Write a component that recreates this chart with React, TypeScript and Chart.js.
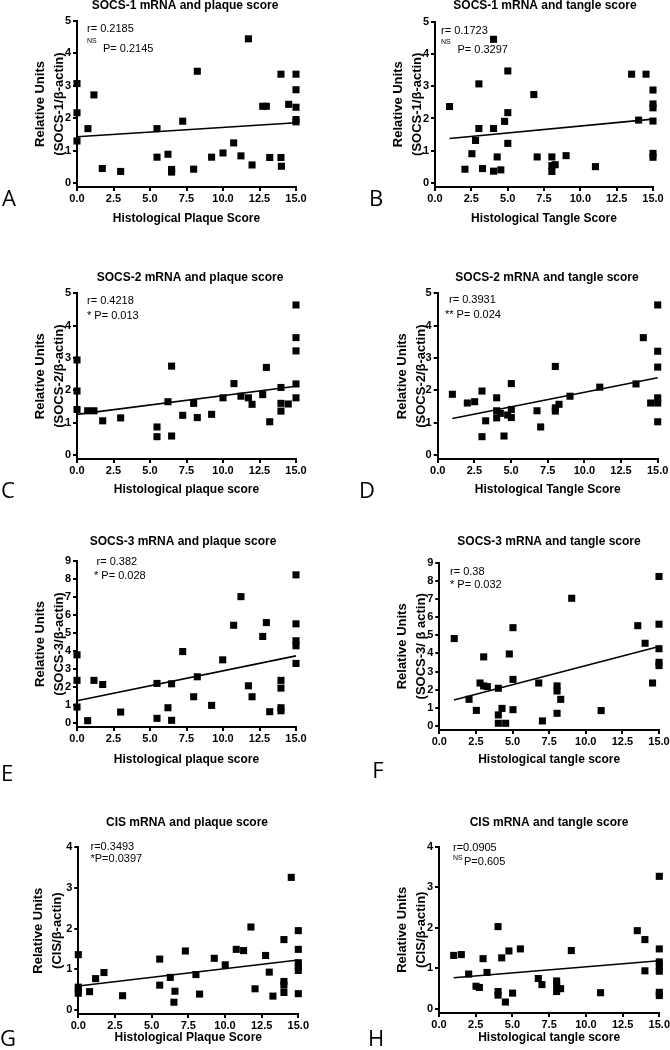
import React, { useEffect, useRef } from "react";
import { Chart, registerables } from "chart.js";

Chart.register(...registerables);

const FAMILY = '"Liberation Sans", Arial, sans-serif';
Chart.defaults.font.family = FAMILY;
Chart.defaults.color = "#000";

// ---------- data ----------
const X_TICK_STEP = 2.5;

// A: SOCS-1 vs plaque
const A_X = [0, 0, 0, 0.75, 1.16, 1.73, 2.99, 5.48, 5.48, 6.23, 6.48, 6.48, 7.24, 7.99, 8.24, 9.22, 10.0, 10.73, 11.23, 11.74, 11.99, 12.72, 12.97, 13.2, 13.97, 13.97, 14.0, 14.5, 15, 15, 15, 15, 15];
const A_Y = [3.07, 2.17, 1.3, 1.68, 2.72, 0.45, 0.36, 1.68, 0.8, 0.89, 0.42, 0.34, 1.91, 0.43, 3.45, 0.8, 0.93, 1.24, 0.84, 4.45, 0.56, 2.37, 2.37, 0.79, 3.36, 0.79, 0.52, 2.43, 3.36, 2.88, 2.34, 1.96, 1.89];
const A_FIT_X = [0, 15];
const A_FIT_Y = [1.43, 1.86];
const A_STATS = ["r= 0.2185", "NS", "P= 0.2145"];

// B: SOCS-1 vs tangle
const B_X = [1.0, 2.06, 2.54, 2.79, 3.02, 3.02, 3.27, 4.03, 4.03, 4.03, 4.28, 4.53, 4.79, 5.01, 5.01, 5.01, 6.8, 7.03, 8.04, 8.04, 8.04, 8.27, 9.02, 11.04, 13.53, 14.01, 14.52, 15, 15, 15, 15, 15, 15];
const B_Y = [2.37, 0.43, 0.91, 1.32, 3.07, 1.69, 0.45, 4.45, 1.69, 0.37, 0.81, 0.41, 1.91, 3.47, 2.18, 1.23, 2.74, 0.81, 0.81, 0.54, 0.36, 0.57, 0.85, 0.51, 3.37, 1.95, 3.37, 2.88, 2.45, 2.33, 1.92, 0.92, 0.8];
const B_FIT_X = [1, 15];
const B_FIT_Y = [1.38, 1.98];
const B_STATS = ["r= 0.1723", "NS", "P= 0.3297"];

// C: SOCS-2 vs plaque
const C_X = [0, 0, 0, 0.73, 1.16, 1.76, 2.99, 5.48, 5.48, 6.23, 6.48, 6.48, 7.24, 7.99, 8.24, 9.22, 10.0, 10.75, 11.23, 11.74, 11.99, 12.72, 12.97, 13.2, 13.97, 13.97, 13.97, 14.47, 15, 15, 15, 15, 15];
const C_Y = [2.94, 1.98, 1.41, 1.37, 1.37, 1.06, 1.15, 0.87, 0.57, 1.65, 2.75, 0.59, 1.23, 1.6, 1.16, 1.26, 1.77, 2.21, 1.82, 1.77, 1.57, 1.87, 2.71, 1.03, 2.09, 1.6, 1.36, 1.58, 4.64, 3.63, 3.22, 2.2, 1.77];
const C_FIT_X = [0, 15];
const C_FIT_Y = [1.26, 2.13];
const C_STATS = ["r= 0.4218", "* P= 0.013"];

// D: SOCS-2 vs tangle
const D_X = [1.0, 2.02, 2.52, 3.02, 3.02, 3.27, 4.02, 4.02, 4.02, 4.27, 4.52, 4.77, 5.02, 5.02, 5.02, 6.77, 7.02, 8.02, 8.02, 8.02, 8.27, 9.02, 11.05, 13.52, 14.02, 14.52, 15, 15, 15, 15, 15, 15];
const D_Y = [1.88, 1.61, 1.65, 1.98, 0.57, 1.06, 1.77, 1.37, 1.15, 1.29, 0.59, 1.24, 2.21, 1.41, 1.16, 1.37, 0.87, 2.74, 1.46, 1.36, 1.57, 1.82, 2.1, 2.2, 3.63, 1.61, 4.64, 3.21, 2.72, 1.77, 1.61, 1.03];
const D_FIT_X = [1, 15];
const D_FIT_Y = [1.13, 2.39];
const D_STATS = ["r= 0.3931", "** P= 0.024"];

// E: SOCS-3 vs plaque
const E_X = [0, 0, 0, 0.73, 1.16, 1.76, 2.99, 5.48, 5.48, 6.23, 6.48, 6.48, 7.24, 7.99, 8.24, 9.22, 9.98, 10.73, 11.23, 11.74, 11.99, 12.72, 12.97, 13.2, 13.97, 13.97, 13.97, 13.97, 15, 15, 15, 15, 15];
const E_Y = [3.79, 2.37, 0.89, 0.13, 2.37, 2.14, 0.61, 2.2, 0.26, 0.85, 2.18, 0.15, 3.97, 1.46, 2.57, 0.98, 3.51, 5.43, 7.02, 2.07, 1.46, 4.81, 5.58, 0.63, 2.37, 1.94, 0.85, 0.68, 8.23, 5.51, 4.57, 4.29, 3.31];
const E_FIT_X = [0, 15];
const E_FIT_Y = [1.24, 3.73];
const E_STATS = ["r= 0.382", "* P= 0.028"];

// F: SOCS-3 vs tangle
const F_X = [1.02, 2.03, 2.53, 2.78, 3.03, 3.03, 3.28, 4.03, 4.03, 4.03, 4.28, 4.53, 4.78, 5.03, 5.03, 5.03, 6.79, 7.04, 8.04, 8.04, 8.04, 8.29, 9.04, 11.05, 13.55, 14.05, 14.56, 15, 15, 15, 15, 15];
const F_Y = [4.82, 1.47, 0.86, 2.37, 3.81, 2.21, 2.17, 2.08, 0.61, 0.15, 0.97, 0.15, 3.97, 5.42, 2.57, 0.9, 2.37, 0.28, 2.21, 1.93, 0.7, 1.47, 7.04, 0.85, 5.53, 4.56, 2.37, 8.24, 5.61, 4.26, 3.51, 3.33];
const F_FIT_X = [1, 15];
const F_FIT_Y = [1.43, 4.38];
const F_STATS = ["r= 0.38", "* P= 0.032"];

// G: CIS vs plaque
const G_X = [0, 0, 0, 0, 0.77, 1.18, 1.75, 3.02, 5.55, 5.55, 6.27, 6.59, 6.52, 7.3, 8.02, 8.27, 9.27, 10.02, 10.77, 11.27, 11.77, 12.05, 12.77, 13.02, 13.27, 14.02, 14.02, 14.02, 14.02, 14.52, 15, 15, 15, 15, 15, 15];
const G_Y = [1.36, 0.56, 0.49, 0.41, 0.45, 0.77, 0.92, 0.35, 1.25, 0.61, 0.8, 0.46, 0.19, 1.45, 0.87, 0.39, 1.27, 1.11, 1.49, 1.46, 2.04, 0.52, 1.34, 0.93, 0.34, 1.73, 0.7, 0.61, 0.43, 3.26, 1.95, 1.49, 1.16, 1.07, 0.97, 0.4];
const G_FIT_X = [0, 15];
const G_FIT_Y = [0.59, 1.23];
const G_STATS = ["r=0.3493", "*P=0.0397"];

// H: CIS vs tangle
const H_X = [1.0, 1.52, 2.02, 2.52, 2.75, 3.0, 3.27, 4.02, 4.02, 4.02, 4.27, 4.52, 4.76, 5.01, 5.54, 6.76, 7.01, 8.01, 8.01, 8.01, 8.28, 9.01, 11.0, 13.5, 14.02, 14.02, 15, 15, 15, 15, 15, 15, 15];
const H_Y = [1.32, 1.34, 0.86, 0.56, 0.53, 1.24, 0.9, 2.03, 0.43, 0.34, 1.26, 0.17, 1.43, 0.39, 1.48, 0.75, 0.6, 0.69, 0.59, 0.43, 0.5, 1.44, 0.4, 1.93, 1.71, 0.94, 3.27, 1.48, 1.16, 1.05, 0.93, 0.41, 0.33];
const H_FIT_X = [1, 15];
const H_FIT_Y = [0.77, 1.19];
const H_STATS = ["r=0.0905", "NS", "P=0.605"];

// y-axis tick values
const Y_TICKS_5 = [0, 1, 2, 3, 4, 5];
const Y_TICKS_9 = [0, 1, 2, 3, 4, 5, 6, 7, 8, 9];
const Y_TICKS_4 = [0, 1, 2, 3, 4];

// ---------- layout ----------
type Note = { text: string; x: number; y: number; size?: number };
type Panel = {
  key: string;
  left: number; top: number; width: number; height: number;
  area: { l: number; r: number; t: number; b: number };
  yTicks: number[]; yMin: number;
  xs: number[]; ys: number[];
  fitX: number[]; fitY: number[];
  title: string; titleX: number; titleY: number;
  xTitle: string; xTitleY: number;
  yTitle: string[]; yTitleX: number;
  notes: Note[];
  letter: string; letterX: number; letterY: number;
};

const Y_TITLE_SIZE = 13;
const Y_TITLE_LH = 1.5;
const X_TITLE_SIZE = 12;
const X_TITLE_LH = 1.2;

const PANELS: Panel[] = [
  {
    key: "A", left: 0, top: 0, width: 335, height: 250,
    area: { l: 77, r: 296, t: 21, b: 187 }, yTicks: Y_TICKS_5, yMin: -0.12,
    xs: A_X, ys: A_Y, fitX: A_FIT_X, fitY: A_FIT_Y,
    title: "SOCS-1 mRNA and plaque score", titleX: 185, titleY: 6,
    xTitle: "Histological Plaque Score", xTitleY: 219,
    yTitle: ["Relative Units", "(SOCS-1/\u03b2-actin)"], yTitleX: 40,
    notes: [
      { text: A_STATS[0], x: 87, y: 29 },
      { text: A_STATS[1], x: 87, y: 41.5, size: 7 },
      { text: A_STATS[2], x: 103, y: 49 },
    ],
    letter: "A", letterX: 9, letterY: 200,
  },
  {
    key: "B", left: 335, top: 0, width: 335, height: 250,
    area: { l: 435, r: 653, t: 21.5, b: 187 }, yTicks: Y_TICKS_5, yMin: -0.12,
    xs: B_X, ys: B_Y, fitX: B_FIT_X, fitY: B_FIT_Y,
    title: "SOCS-1 mRNA and tangle score", titleX: 545, titleY: 6,
    xTitle: "Histological Tangle Score", xTitleY: 219,
    yTitle: ["Relative Units", "(SOCS-1/\u03b2-actin)"], yTitleX: 398,
    notes: [
      { text: B_STATS[0], x: 441, y: 30.5 },
      { text: B_STATS[1], x: 441, y: 42.5, size: 7 },
      { text: B_STATS[2], x: 457.5, y: 50 },
    ],
    letter: "B", letterX: 376, letterY: 200,
  },
  {
    key: "C", left: 0, top: 250, width: 335, height: 250,
    area: { l: 77, r: 296, t: 293.3, b: 459 }, yTicks: Y_TICKS_5, yMin: -0.12,
    xs: C_X, ys: C_Y, fitX: C_FIT_X, fitY: C_FIT_Y,
    title: "SOCS-2 mRNA and plaque score", titleX: 190, titleY: 278,
    xTitle: "Histological plaque score", xTitleY: 490,
    yTitle: ["Relative Units", "(SOCS-2/\u03b2-actin)"], yTitleX: 40,
    notes: [
      { text: C_STATS[0], x: 87, y: 301 },
      { text: C_STATS[1], x: 87, y: 316 },
    ],
    letter: "C", letterX: 8, letterY: 492,
  },
  {
    key: "D", left: 335, top: 250, width: 335, height: 250,
    area: { l: 437.7, r: 657.7, t: 293.3, b: 459 }, yTicks: Y_TICKS_5, yMin: -0.12,
    xs: D_X, ys: D_Y, fitX: D_FIT_X, fitY: D_FIT_Y,
    title: "SOCS-2 mRNA and tangle score", titleX: 547, titleY: 278,
    xTitle: "Histological Tangle Score", xTitleY: 490,
    yTitle: ["Relative Units", "(SOCS-2/\u03b2-actin)"], yTitleX: 402,
    notes: [
      { text: D_STATS[0], x: 449, y: 299.5 },
      { text: D_STATS[1], x: 445, y: 315 },
    ],
    letter: "D", letterX: 367, letterY: 492,
  },
  {
    key: "E", left: 0, top: 500, width: 335, height: 290,
    area: { l: 77, r: 296, t: 561, b: 727 }, yTicks: Y_TICKS_9, yMin: -0.22,
    xs: E_X, ys: E_Y, fitX: E_FIT_X, fitY: E_FIT_Y,
    title: "SOCS-3 mRNA and plaque score", titleX: 183, titleY: 542,
    xTitle: "Histological plaque score", xTitleY: 760,
    yTitle: ["Relative Units", "(SOCS-3/\u03b2-actin)"], yTitleX: 40,
    notes: [
      { text: E_STATS[0], x: 96.5, y: 561.5 },
      { text: E_STATS[1], x: 94, y: 576 },
    ],
    letter: "E", letterX: 7, letterY: 775,
  },
  {
    key: "F", left: 335, top: 500, width: 335, height: 290,
    area: { l: 439.3, r: 659, t: 562.7, b: 730 }, yTicks: Y_TICKS_9, yMin: -0.22,
    xs: F_X, ys: F_Y, fitX: F_FIT_X, fitY: F_FIT_Y,
    title: "SOCS-3 mRNA and tangle score", titleX: 549, titleY: 542,
    xTitle: "Histological tangle score", xTitleY: 760,
    yTitle: ["Relative Units", "(SOCS-3/ \u03b2 actin)"], yTitleX: 402,
    notes: [
      { text: F_STATS[0], x: 450, y: 571.5 },
      { text: F_STATS[1], x: 450, y: 585 },
    ],
    letter: "F", letterX: 378, letterY: 772,
  },
  {
    key: "G", left: 0, top: 790, width: 335, height: 260,
    area: { l: 78.3, r: 298.3, t: 847.3, b: 1014 }, yTicks: Y_TICKS_4, yMin: -0.1,
    xs: G_X, ys: G_Y, fitX: G_FIT_X, fitY: G_FIT_Y,
    title: "CIS mRNA and plaque score", titleX: 187, titleY: 823,
    xTitle: "Histological Plaque Score", xTitleY: 1038,
    yTitle: ["Relative Units", "(CIS/\u03b2-actin)"], yTitleX: 38,
    notes: [
      { text: G_STATS[0], x: 90.5, y: 846.5 },
      { text: G_STATS[1], x: 90.5, y: 858.5 },
    ],
    letter: "G", letterX: 8, letterY: 1040,
  },
  {
    key: "H", left: 335, top: 790, width: 335, height: 260,
    area: { l: 439, r: 659.3, t: 846.7, b: 1013 }, yTicks: Y_TICKS_4, yMin: -0.1,
    xs: H_X, ys: H_Y, fitX: H_FIT_X, fitY: H_FIT_Y,
    title: "CIS mRNA and tangle score", titleX: 549, titleY: 823,
    xTitle: "Histological tangle score", xTitleY: 1038,
    yTitle: ["Relative Units", "(CIS/\u03b2-actin)"], yTitleX: 402,
    notes: [
      { text: H_STATS[0], x: 453, y: 848 },
      { text: H_STATS[1], x: 453, y: 858, size: 7 },
      { text: H_STATS[2], x: 464, y: 862 },
    ],
    letter: "H", letterX: 376, letterY: 1040,
  },
];

function PanelChart({ p }: { p: Panel }) {
  const ref = useRef<HTMLCanvasElement | null>(null);

  useEffect(() => {
    if (!ref.current) return;
    const yLineH = Y_TITLE_SIZE * Y_TITLE_LH;
    const xLineH = X_TITLE_SIZE * X_TITLE_LH;
    const padL = p.yTitleX - yLineH / 2 - p.left;
    const yBoxW = p.area.l - p.left - padL;
    const padT = p.area.t - p.top;
    const padR = p.left + p.width - p.area.r;
    const xBoxBottom = p.xTitleY + xLineH / 2;
    const xBoxH = xBoxBottom - p.area.b;
    const padB = p.top + p.height - xBoxBottom;
    const yMax = p.yTicks[p.yTicks.length - 1];

    const textPlugin = {
      id: "panelText",
      afterDraw(chart: any) {
        const ctx = chart.ctx as CanvasRenderingContext2D;
        ctx.save();
        ctx.fillStyle = "#000";
        ctx.textBaseline = "middle";
        ctx.textAlign = "center";
        ctx.font = `bold 12px ${FAMILY}`;
        ctx.fillText(p.title, p.titleX - p.left, p.titleY - p.top);
        ctx.textAlign = "left";
        for (const n of p.notes) {
          ctx.font = `${n.size ?? 11}px ${FAMILY}`;
          ctx.fillText(n.text, n.x - p.left, n.y - p.top);
        }
        ctx.textAlign = "center";
        ctx.font = `22px "Open Sans", "Noto Sans", sans-serif`;
        ctx.fillText(p.letter, p.letterX - p.left, p.letterY - p.top);
        ctx.restore();
      },
    };

    const points = p.xs.map((x, i) => ({ x, y: p.ys[i] }));
    const fit = p.fitX.map((x, i) => ({ x, y: p.fitY[i] }));

    const chart = new Chart(ref.current, {
      type: "scatter",
      data: {
        datasets: [
          {
            data: fit,
            showLine: true,
            borderColor: "#000",
            borderWidth: 1.6,
            pointRadius: 0,
            clip: false as any,
          },
          {
            data: points,
            pointStyle: "rect",
            pointRadius: 5,
            backgroundColor: "#000",
            borderColor: "#000",
            borderWidth: 0,
            clip: false as any,
          },
        ],
      },
      options: {
        animation: false,
        responsive: false,
        maintainAspectRatio: false,
        events: [],
        layout: { padding: { left: padL, top: padT, right: padR, bottom: padB } },
        plugins: {
          legend: { display: false },
          title: { display: false },
          tooltip: { enabled: false },
        },
        scales: {
          x: {
            type: "linear",
            position: "bottom",
            min: 0,
            max: 15,
            ticks: {
              stepSize: X_TICK_STEP,
              callback: (v: any) => Number(v).toFixed(1),
              font: { family: FAMILY, size: 11, weight: "bold" },
              color: "#000",
              padding: 1,
              maxRotation: 0,
              autoSkip: false,
            },
            grid: {
              display: true,
              drawOnChartArea: false,
              drawTicks: true,
              tickLength: 4,
              color: "#000",
              lineWidth: 2,
            },
            border: { display: true, color: "#000", width: 2 },
            title: {
              display: true,
              text: p.xTitle,
              color: "#000",
              font: { family: FAMILY, size: X_TITLE_SIZE, weight: "bold", lineHeight: X_TITLE_LH },
              padding: 0,
            },
            afterFit: (s: any) => {
              s.height = xBoxH;
              s.paddingLeft = 0;
              s.paddingRight = 0;
            },
          },
          y: {
            type: "linear",
            min: p.yMin,
            max: yMax,
            ticks: {
              stepSize: 1,
              font: { family: FAMILY, size: 11, weight: "bold" },
              color: "#000",
              padding: 2,
              callback: (v: any) => String(v),
            },
            afterBuildTicks: (s: any) => {
              s.ticks = p.yTicks.map((v) => ({ value: v }));
            },
            grid: {
              display: true,
              drawOnChartArea: false,
              drawTicks: true,
              tickLength: 4,
              color: "#000",
              lineWidth: 2,
            },
            border: { display: true, color: "#000", width: 2 },
            title: {
              display: true,
              text: p.yTitle,
              color: "#000",
              font: { family: FAMILY, size: Y_TITLE_SIZE, weight: "bold", lineHeight: Y_TITLE_LH },
              padding: 0,
            },
            afterFit: (s: any) => {
              s.width = yBoxW;
              s.paddingTop = 0;
              s.paddingBottom = 0;
            },
          },
        },
      } as any,
      plugins: [textPlugin],
    });
    return () => chart.destroy();
  }, [p]);

  return (
    <canvas
      ref={ref}
      width={p.width}
      height={p.height}
      style={{
        position: "absolute",
        left: p.left,
        top: p.top,
        width: p.width,
        height: p.height,
        display: "block",
      }}
    />
  );
}

export default function App() {
  return (
    <div
      style={{
        position: "absolute",
        left: 0,
        top: 0,
        width: 670,
        height: 1050,
        background: "#fff",
        overflow: "hidden",
      }}
    >
      {PANELS.map((p) => (
        <PanelChart key={p.key} p={p} />
      ))}
    </div>
  );
}
